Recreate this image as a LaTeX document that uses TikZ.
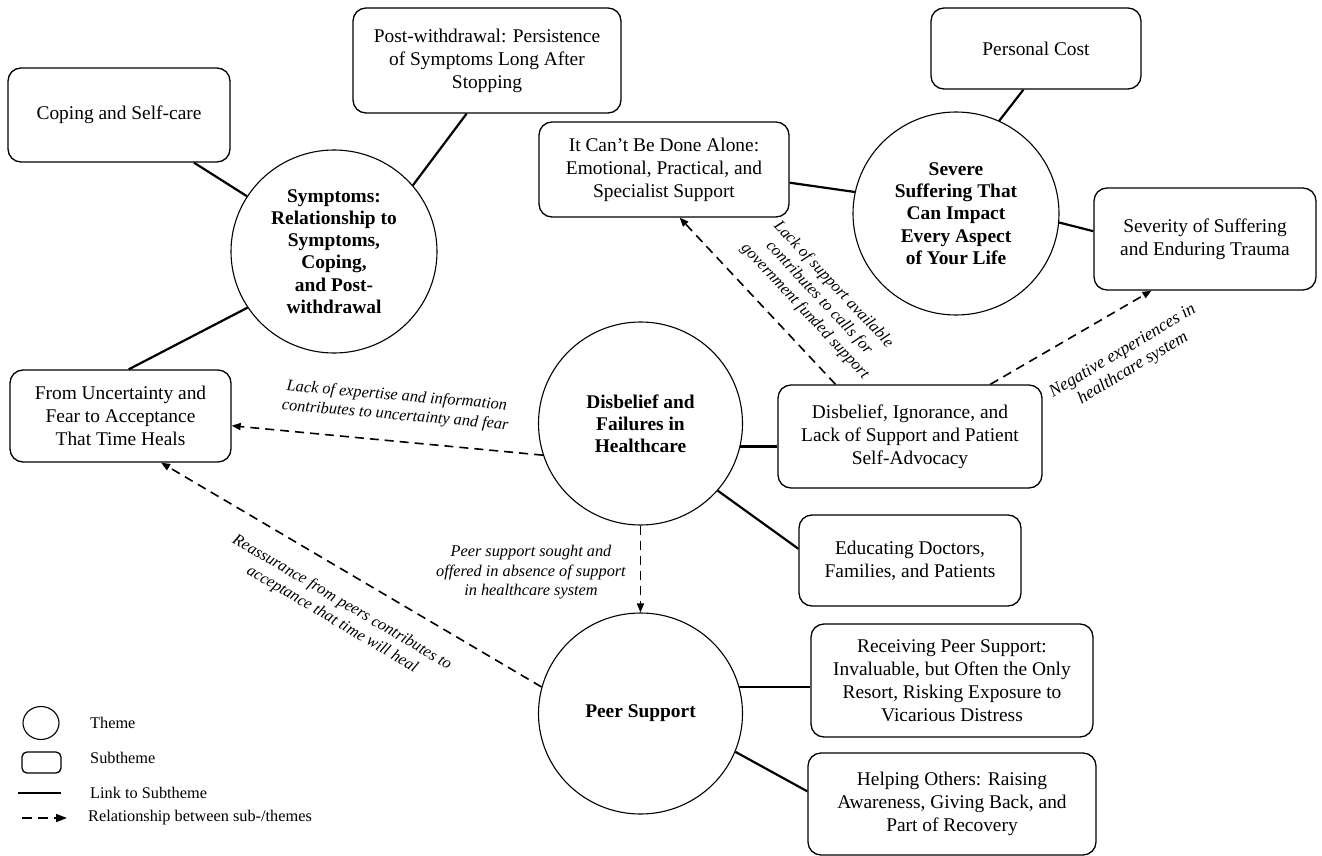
\documentclass[tikz,border=0pt]{standalone}
\usepackage{fontspec}
\setmainfont{Liberation Serif}
\usetikzlibrary{shapes.geometric,arrows.meta,calc}
\tikzset{
  sub/.style={draw, line width=1.3pt, rounded corners=13pt, align=center, inner sep=0pt,
    font=\fontsize{19.4}{23}\selectfont},
  theme/.style={draw, ellipse, line width=1.1pt, align=center, inner sep=0pt,
    font=\fontsize{19.4}{22.2}\selectfont\bfseries},
  link/.style={line width=2.2pt},
  rel/.style={line width=1.6pt, dash pattern=on 9pt off 6pt, -{Triangle[length=9pt,width=7pt]}},
  lab/.style={align=center, inner sep=0pt, font=\fontsize{16.3}{19.5}\selectfont\itshape},
  legtxt/.style={anchor=west, inner sep=0pt, font=\fontsize{16.3}{19.5}\selectfont},
}
\begin{document}
\begin{tikzpicture}[x=1pt,y=-1pt]
\useasboundingbox (0,0) rectangle (1322,856);
\fill[white] (0,0) rectangle (1322,856);

% themes
\node[theme, minimum width=206pt, minimum height=203pt] (sym) at (334,251.5) {Symptoms:\\Relationship to\\Symptoms,\\Coping,\\and Post-\\withdrawal};
\node[theme, minimum width=206pt, minimum height=203pt] (sev) at (956,213.5) {Severe\\Suffering That\\Can Impact\\Every Aspect\\of Your Life};
\node[theme, minimum width=204pt, minimum height=203pt] (dis) at (640.5,423.5) {Disbelief and\\Failures in\\Healthcare};
\node[theme, minimum width=204pt, minimum height=201pt] (peer) at (640.5,713.5) {Peer Support};

% subthemes
\node[sub, minimum width=222pt, minimum height=94pt] (coping) at (119,115) {Coping and Self-care};
\node[sub, minimum width=268pt, minimum height=105pt] (post) at (487,60.5) {Post-withdrawal: Persistence\\of Symptoms Long After\\Stopping};
\node[sub, minimum width=221pt, minimum height=92pt] (unc) at (120.5,416) {From Uncertainty and\\Fear to Acceptance\\That Time Heals};
\node[sub, minimum width=250pt, minimum height=95pt] (cant) at (664,169.5) {It Can’t Be Done Alone:\\Emotional, Practical, and\\Specialist Support};
\node[sub, minimum width=210pt, minimum height=81pt] (pcost) at (1036,48.5) {Personal Cost};
\node[sub, minimum width=222pt, minimum height=102pt] (severity) at (1205,239) {Severity of Suffering\\and Enduring Trauma};
\node[sub, minimum width=264pt, minimum height=103pt] (disbox) at (910,436.5) {Disbelief, Ignorance, and\\Lack of Support and Patient\\Self-Advocacy};
\node[sub, minimum width=222pt, minimum height=91pt] (edu) at (910,560.5) {Educating Doctors,\\Families, and Patients};
\node[sub, minimum width=282pt, minimum height=113pt] (recv) at (952,680.5) {Receiving Peer Support:\\Invaluable, but Often the Only\\Resort, Risking Exposure to\\Vicarious Distress};
\node[sub, minimum width=288pt, minimum height=102pt] (help) at (952,804) {Helping Others: Raising\\Awareness, Giving Back, and\\Part of Recovery};

% links to subthemes
\draw[link] (coping) -- (sym);
\draw[link] (post.-111.8) -- (sym.40);
\draw[link] (sym.-147.6) -- (unc.80);
\draw[link] (cant.-6.2) -- (sev.168.2);
\draw[link] (pcost.-107.8) -- (sev.65.1);
\draw[link] (sev.-5.4) -- (severity.176.9);
\draw[link] (dis.-13.1) -- (dis.-13.1 -| disbox.west);
\draw[link] (dis.-41.7) -- (edu.174.6);
\draw[link] (peer.15.7) -- (peer.15.7 -| recv.west);
\draw[link] (peer.-22.6) -- (help.175.2);

% relationships
\draw[rel] (dis.198.4) -- (unc.-5.6);
\draw[rel] (disbox.145.2) -- (cant.-72.5);
\draw[rel] (disbox.33) -- (severity.-136.6);
\draw[rel] (dis.south) -- (peer.north);
\draw[rel] (peer.165.4) -- (unc.-49.7);

% relationship labels
\node[lab, rotate=-5] (l1) at (396,406) {Lack of expertise and information\\contributes to uncertainty and fear};
\node[lab, rotate=-46.9] (l2) at (819,298) {Lack of support available\\contributes to calls for\\government funded support};
\node[lab, rotate=31, font=\fontsize{17.5}{20}\selectfont\itshape] (l3) at (1128,360) {Negative experiences in\\healthcare system};
\node[lab] (l4) at (531,572.5) {Peer support sought and\\offered in absence of support\\in healthcare system};
\node[lab, rotate=-30.5] (l5) at (337,611) {Reassurance from peers contributes to\\acceptance that time will heal};

% legend
\node[draw, ellipse, line width=1.1pt, minimum width=36pt, minimum height=33pt, inner sep=0pt] (lgtheme) at (41,723) {};
\node[draw, rounded corners=5pt, line width=1.3pt, minimum width=39pt, minimum height=21pt, inner sep=0pt] (lgsub) at (41.5,762.5) {};
\coordinate (lglinkA) at (18,793);
\coordinate (lglinkB) at (61,793);
\draw[link] (lglinkA) -- (lglinkB);
\coordinate (lgrelA) at (22,818);
\coordinate (lgrelB) at (67,818);
\draw[line width=1.6pt, dash pattern=on 10pt off 6pt, -{Triangle[length=11pt,width=8pt]}] (lgrelA) -- (lgrelB);
\node[legtxt] (lgt1) at (90,723) {Theme};
\node[legtxt] (lgt2) at (90,758) {Subtheme};
\node[legtxt] (lgt3) at (90,793) {Link to Subtheme};
\node[legtxt] (lgt4) at (88,818) {Relationship between sub-/themes};
\end{tikzpicture}
\end{document}
